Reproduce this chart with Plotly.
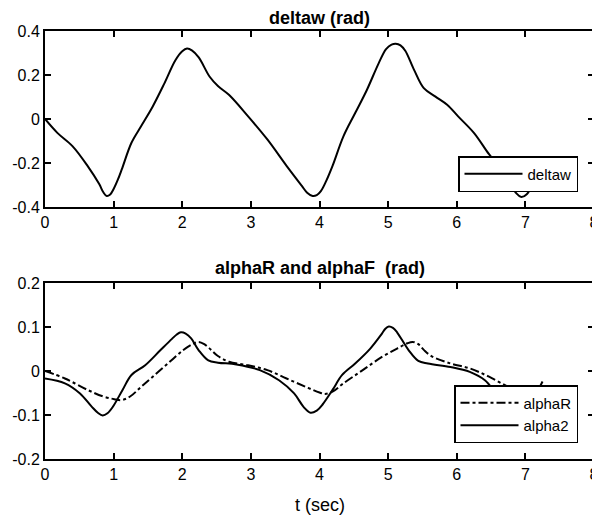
import plotly.graph_objects as go

# ---- data ----
t_delta = [0, 0.18, 0.4, 0.62, 0.79, 0.85, 0.9, 0.95, 1.0, 1.06, 1.12, 1.26, 1.4, 1.57, 1.74, 1.9, 2.0,
           2.07, 2.14, 2.24, 2.4, 2.52, 2.68, 2.96, 3.24, 3.52, 3.74, 3.82, 3.9, 3.96, 4.02, 4.1, 4.19, 4.35,
           4.52, 4.69, 4.86, 4.97, 5.05, 5.11, 5.18, 5.25, 5.38, 5.52, 5.69, 5.86, 6.02, 6.25, 6.47, 6.6,
           6.75, 6.87, 6.94, 7.02, 7.1, 7.25]
deltaw = [0, -0.063, -0.123, -0.213, -0.296, -0.333, -0.35, -0.343, -0.318, -0.277, -0.228, -0.108,
          -0.033, 0.057, 0.162, 0.267, 0.308, 0.32, 0.312, 0.28, 0.192, 0.15, 0.11, 0.012, -0.093, -0.213,
          -0.303, -0.335, -0.35, -0.346, -0.328, -0.28, -0.213, -0.078, 0.027, 0.132, 0.252, 0.318, 0.338,
          0.342, 0.335, 0.31, 0.222, 0.14, 0.102, 0.065, 0.012, -0.063, -0.16, -0.21, -0.28, -0.338, -0.355,
          -0.342, -0.3, -0.175]

t_alphaR = [0, 0.29, 0.62, 0.85, 1.01, 1.12, 1.24, 1.4, 1.57, 1.79, 2.01, 2.16, 2.24, 2.32, 2.42, 2.52,
            2.68, 2.96, 3.24, 3.52, 3.8, 4.0, 4.08, 4.19, 4.35, 4.63, 4.91, 5.13, 5.28, 5.36, 5.44, 5.52,
            5.63, 5.91, 6.19, 6.47, 6.75, 6.97, 7.1, 7.25]
alphaR = [0, -0.017, -0.043, -0.058, -0.064, -0.066, -0.058, -0.036, -0.013, 0.017, 0.047, 0.062, 0.066,
          0.061, 0.048, 0.034, 0.021, 0.013, 0.002, -0.017, -0.036, -0.049, -0.052, -0.047, -0.028, 0.002,
          0.032, 0.051, 0.063, 0.066, 0.061, 0.048, 0.034, 0.017, 0.006, -0.013, -0.036, -0.051, -0.055,
          -0.05]

t_alpha2 = [0, 0.29, 0.51, 0.68, 0.77, 0.84, 0.91, 0.99, 1.13, 1.26, 1.46, 1.68, 1.85, 1.92, 1.98, 2.05,
            2.13, 2.24, 2.38, 2.52, 2.79, 3.13, 3.41, 3.63, 3.77, 3.87, 3.96, 4.05, 4.19, 4.33, 4.52, 4.74,
            4.91, 4.96, 5.01, 5.07, 5.13, 5.3, 5.44, 5.58, 5.91, 6.19, 6.41, 6.58, 6.75, 6.92, 7.05, 7.15,
            7.25]
alpha2 = [-0.017, -0.028, -0.051, -0.081, -0.095, -0.101, -0.096, -0.081, -0.043, -0.009, 0.013, 0.047,
          0.073, 0.083, 0.088, 0.085, 0.074, 0.047, 0.024, 0.019, 0.015, 0.002, -0.021, -0.051, -0.082,
          -0.095, -0.09, -0.075, -0.043, -0.009, 0.017, 0.051, 0.085, 0.096, 0.101, 0.098, 0.088, 0.047,
          0.023, 0.017, 0.009, -0.002, -0.021, -0.052, -0.08, -0.097, -0.085, -0.055, -0.024]

x_ticks = [0, 1, 2, 3, 4, 5, 6, 7, 8]
y1_ticks = [-0.4, -0.2, 0, 0.2, 0.4]
y1_labels = ["-0.4", "-0.2", "0", "0.2", "0.4"]
y2_ticks = [-0.2, -0.1, 0, 0.1, 0.2]
y2_labels = ["-0.2", "-0.1", "0", "0.1", "0.2"]

FONT = "Liberation Sans, Arial, sans-serif"
OFF = 8                      # page body margin of the html page
W, H = 600 - OFF, 518 - OFF  # figure size so that it fits the window


def px(x):
    return (x - OFF) / W


def py(y):
    return 1 - (y - OFF) / H


fig = go.Figure()
fig.add_trace(go.Scatter(x=t_delta, y=deltaw, name="deltaw", mode="lines",
                         line=dict(color="black", width=2, shape="spline", smoothing=1),
                         xaxis="x", yaxis="y", legend="legend"))
fig.add_trace(go.Scatter(x=t_alphaR, y=alphaR, name="alphaR", mode="lines",
                         line=dict(color="black", width=2, dash="dashdot", shape="spline", smoothing=1),
                         xaxis="x2", yaxis="y2", legend="legend2"))
fig.add_trace(go.Scatter(x=t_alpha2, y=alpha2, name="alpha2", mode="lines",
                         line=dict(color="black", width=2, shape="spline", smoothing=1),
                         xaxis="x2", yaxis="y2", legend="legend2"))

xd = [px(45), px(594)]
yd1 = [py(207), py(31)]
yd2 = [py(459), py(283)]

ax_common = dict(showline=True, linecolor="black", linewidth=2, mirror="ticks", ticks="inside",
                 ticklen=6, tickwidth=1.5, tickcolor="black", showgrid=False, zeroline=False,
                 automargin=False,
                 tickfont=dict(family=FONT, size=16, color="black"))

fig.update_layout(
    width=W, height=H, margin=dict(l=0, r=0, t=0, b=0),
    paper_bgcolor="white", plot_bgcolor="white", showlegend=True,
    xaxis=dict(domain=xd, anchor="y", range=[0, 8], tickvals=x_ticks, **ax_common),
    yaxis=dict(domain=yd1, anchor="x", range=[-0.4, 0.4], tickvals=y1_ticks, ticktext=y1_labels, **ax_common),
    xaxis2=dict(domain=xd, anchor="y2", range=[0, 8], tickvals=x_ticks, **ax_common),
    yaxis2=dict(domain=yd2, anchor="x2", range=[-0.2, 0.2], tickvals=y2_ticks, ticktext=y2_labels, **ax_common),
    legend=dict(x=px(578), y=py(192), xanchor="right", yanchor="bottom",
                bgcolor="white", bordercolor="black", borderwidth=1.5,
                font=dict(family=FONT, size=15, color="black"), itemwidth=58,
                tracegroupgap=0),
    legend2=dict(x=px(578), y=py(443), xanchor="right", yanchor="bottom",
                 bgcolor="white", bordercolor="black", borderwidth=1.5,
                 font=dict(family=FONT, size=15, color="black"), itemwidth=58,
                 tracegroupgap=0),
    annotations=[
        dict(text="<b>deltaw (rad)</b>", x=(xd[0] + xd[1]) / 2, y=py(18), xref="paper", yref="paper",
             showarrow=False, font=dict(family=FONT, size=18, color="black"), xanchor="center", yanchor="middle"),
        dict(text="<b>alphaR and alphaF\u00a0 (rad)</b>", x=(xd[0] + xd[1]) / 2, y=py(268), xref="paper",
             yref="paper", showarrow=False, font=dict(family=FONT, size=18, color="black"),
             xanchor="center", yanchor="middle"),
        dict(text="t (sec)", x=(xd[0] + xd[1]) / 2, y=py(505), xref="paper", yref="paper",
             showarrow=False, font=dict(family=FONT, size=18, color="black"),
             xanchor="center", yanchor="middle"),
    ],
)

fig.write_html("out.html")
